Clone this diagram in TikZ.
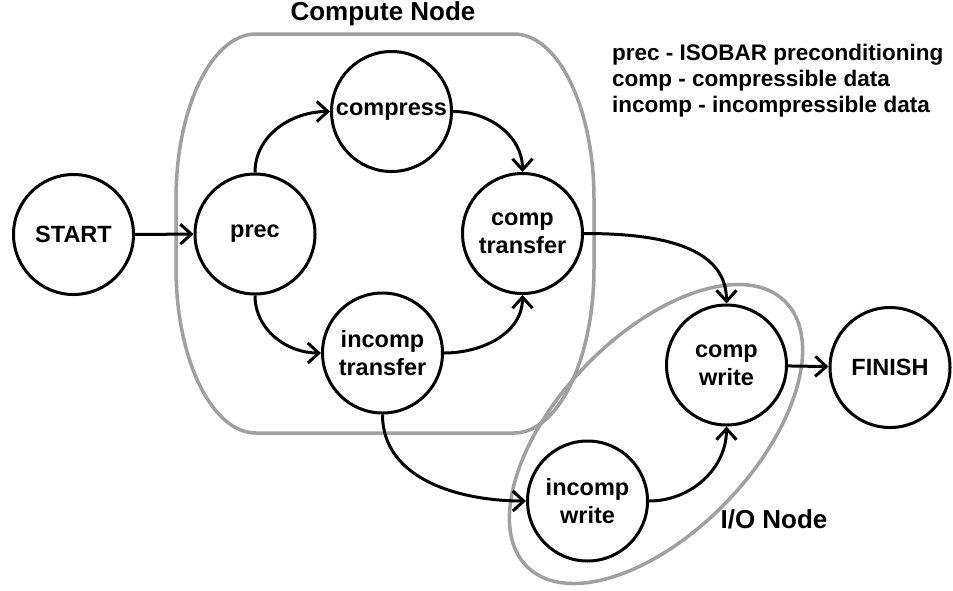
\documentclass[tikz,border=0pt]{standalone}
\usepackage{fontspec}
\setmainfont{Liberation Sans}
\usetikzlibrary{arrows.meta}
\definecolor{groupgray}{RGB}{160,160,160}
\begin{document}
\begin{tikzpicture}[x=1pt,y=-1pt,
  state/.style={circle,draw=black,line width=3pt,minimum size=120pt,inner sep=0pt,
    align=center,font=\fontsize{23.5}{28}\selectfont\bfseries},
  flow/.style={line width=3pt,-{Straight Barb[length=11pt,width=20pt]}},
  group/.style={draw=groupgray,line width=3.5pt},
  title/.style={font=\fontsize{26}{30}\selectfont\bfseries},
  legend/.style={font=\fontsize{22.5}{26}\selectfont\bfseries,anchor=west,inner sep=0pt}]
\useasboundingbox (0,0) rectangle (953,590);

% compute node enclosure: rectangle with tall elliptical corners
\draw[group] (256,34) -- (514,34)
  .. controls (558.2,34) and (594,107.9) .. (594,199)
  -- (594,268)
  .. controls (594,359.1) and (558.2,433) .. (514,433)
  -- (256,433)
  .. controls (211.8,433) and (176,359.1) .. (176,268)
  -- (176,199)
  .. controls (176,107.9) and (211.8,34) .. (256,34) -- cycle;
\node[title] (computelbl) at (383,14) {Compute Node};

% I/O node enclosure
\draw[group,rotate around={46:(656,434)}] (656,434) ellipse [x radius=185, y radius=98];
\node[title] (iolbl) at (774,519) {I/O Node};

% states
\node[state] (start) at (73.5,234.5) {START};
\node[state] (prec) at (255,234) {prec};
\node[state] (compress) at (391.5,111.5) {compress};
\node[state] (ctrans) at (522.5,233.5) {comp\\transfer};
\node[state] (itrans) at (382.5,353) {incomp\\transfer};
\node[state] (cwrite) at (726.5,365) {comp\\write};
\node[state] (iwrite) at (587.5,501) {incomp\\write};
\node[state] (finish) at (890,367.5) {FINISH};

% legend
\node[legend] (leg1) at (612,55) {prec - ISOBAR preconditioning};
\node[legend] (leg2) at (612,81) {comp - compressible data};
\node[legend] (leg3) at (612,107) {incomp - incompressible data};

% transitions
\draw[flow] (start) -- (prec);
\draw[flow] (prec.north) to[out=90,in=180] (compress.west);
\draw[flow] (compress.east) to[out=0,in=90] (ctrans.north);
\draw[flow] (prec.south) to[out=-90,in=180] (itrans.west);
\draw[flow] (itrans.east) to[out=0,in=-90] (ctrans.south);
\draw[flow] (ctrans.east) to[out=0,in=90] (cwrite.north);
\draw[flow] (itrans.south) to[out=-90,in=180] (iwrite.west);
\draw[flow] (iwrite.east) to[out=0,in=-90] (cwrite.south);
\draw[flow] (cwrite) -- (finish);
\end{tikzpicture}
\end{document}
